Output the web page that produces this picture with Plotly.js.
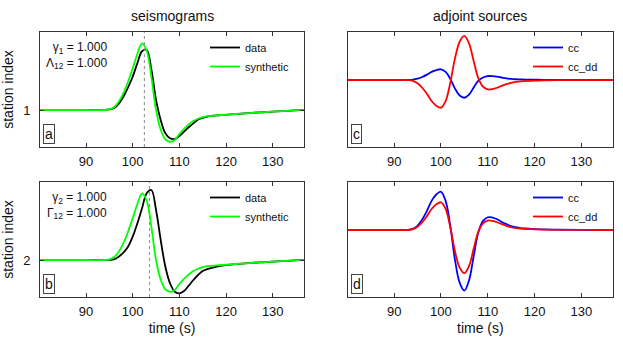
<!DOCTYPE html>
<html>
<head>
<meta charset="utf-8">
<script src="https://cdn.plot.ly/plotly-3.0.1.min.js"></script>
<style>html,body{margin:0;padding:0;background:#fff;}#plot{width:623px;height:339px;}</style>
</head>
<body>
<div id="plot"></div>
<script>
// ---- data ----
// seismogram time samples (s)
const tSeis = [80, 90, 94, 95, 96, 97, 98, 99, 100, 101, 102, 103, 104, 105, 106, 107, 108, 109, 110, 111, 112, 113, 114, 115, 116, 117, 118, 120, 122, 124, 126, 128, 130, 132, 134, 136, 137];
// synthetic trace (normalised amplitude), same in both stations
const synthetic = [0, 0, 0, 0.010, 0.040, 0.123, 0.247, 0.419, 0.618, 0.830, 0.988, 0.880, 0.490, 0.000, -0.290, -0.434, -0.470, -0.444, -0.356, -0.281, -0.215, -0.163, -0.129, -0.107, -0.092, -0.085, -0.079, -0.070, -0.059, -0.050, -0.041, -0.033, -0.025, -0.016, -0.009, -0.003, 0];
// observed data, station 1 and station 2
const dataSt1 = [0, 0, 0, 0.008, 0.025, 0.089, 0.197, 0.336, 0.493, 0.692, 0.870, 0.890, 0.600, 0.150, -0.148, -0.345, -0.419, -0.430, -0.385, -0.321, -0.256, -0.197, -0.141, -0.116, -0.098, -0.088, -0.081, -0.071, -0.060, -0.050, -0.041, -0.033, -0.025, -0.016, -0.009, -0.003, 0];
const dataSt2 = [0, 0, 0, 0.003, 0.010, 0.049, 0.108, 0.197, 0.345, 0.544, 0.766, 0.988, 1.037, 0.741, 0.296, -0.099, -0.345, -0.470, -0.493, -0.460, -0.380, -0.296, -0.222, -0.163, -0.135, -0.115, -0.098, -0.077, -0.062, -0.051, -0.041, -0.033, -0.025, -0.016, -0.009, -0.003, 0];
const stations = [1, 2];
const dotTimes = [102.5, 103.6];   // dotted marker times
// adjoint source time samples (s)
const tAdj = [80, 90, 92, 93, 94, 95, 96, 97, 98, 99, 100, 101, 102, 103, 104, 105, 106, 107, 108, 109, 110, 111, 112, 113, 114, 115, 116, 117, 118, 120, 122, 125, 130, 137];
const ccSt1   = [0, 0, 0, 0.002, 0.012, 0.046, 0.108, 0.193, 0.293, 0.359, 0.386, 0.293, 0.039, -0.31, -0.56, -0.64, -0.53, -0.27, -0.02, 0.09, 0.14, 0.14, 0.12, 0.09, 0.06, 0.04, 0.027, 0.02, 0.015, 0.01, 0.006, 0.003, 0.001, 0];
const ccddSt1 = [0, 0, 0, -0.005, -0.03, -0.12, -0.28, -0.5, -0.76, -0.93, -1.0, -0.76, -0.1, 0.78, 1.38, 1.59, 1.32, 0.68, 0.06, -0.24, -0.34, -0.33, -0.28, -0.21, -0.15, -0.1, -0.07, -0.05, -0.04, -0.025, -0.015, -0.008, -0.003, 0];
const ccSt2   = [0, 0, 0, 0.007, 0.04, 0.16, 0.38, 0.69, 1.05, 1.28, 1.38, 1.05, 0.14, -1.08, -1.9, -2.19, -1.82, -0.94, -0.08, 0.33, 0.46, 0.45, 0.39, 0.29, 0.21, 0.14, 0.1, 0.07, 0.055, 0.035, 0.02, 0.011, 0.004, 0];
const ccddSt2 = [0, 0, 0, 0.005, 0.03, 0.12, 0.28, 0.5, 0.76, 0.93, 1.0, 0.76, 0.1, -0.77, -1.36, -1.56, -1.3, -0.67, -0.06, 0.24, 0.34, 0.33, 0.28, 0.21, 0.15, 0.1, 0.07, 0.05, 0.04, 0.025, 0.015, 0.008, 0.003, 0];
const xTicks = [90, 100, 110, 120, 130];
const paramLabels = ['γ<sub>1</sub> = 1.000<br>Λ<sub>12</sub> = 1.000', 'γ<sub>2</sub> = 1.000<br>Γ<sub>12</sub> = 1.000'];
const panelLetters = ['a', 'b', 'c', 'd'];

// ---- presentation ----
const W = 623, H = 339;
const FONT = 'Liberation Sans, Arial, Helvetica, sans-serif';
const gain = 0.4;                 // trace gain around station index
const xr = [80.14, 136.7];
const px = (a, b) => [a / W, b / W];
const py = (top, bot) => [(H - bot) / H, (H - top) / H];
const colL = px(40, 304), colR = px(348, 612.7);
const rowT = py(32, 147), rowB = py(182, 297);
const seisRange = s => [s - 37 / 67.5 * gain, s + 78 / 67.5 * gain];
const adjRange = [-67 / 27.7, 48 / 27.7];

const shift = (arr, s) => arr.map(v => s + gain * v);
const lineW = 1.8;
const traces = [
  {x: tSeis, y: shift(dataSt1, stations[0]), xaxis: 'x', yaxis: 'y', name: 'data', line: {color: '#000000', width: lineW, shape: 'spline'}, legend: 'legend'},
  {x: tSeis, y: shift(synthetic, stations[0]), xaxis: 'x', yaxis: 'y', name: 'synthetic', line: {color: '#00ff00', width: lineW, shape: 'spline'}, legend: 'legend'},
  {x: tSeis, y: shift(dataSt2, stations[1]), xaxis: 'x2', yaxis: 'y2', name: 'data', line: {color: '#000000', width: lineW, shape: 'spline'}, legend: 'legend2'},
  {x: tSeis, y: shift(synthetic, stations[1]), xaxis: 'x2', yaxis: 'y2', name: 'synthetic', line: {color: '#00ff00', width: lineW, shape: 'spline'}, legend: 'legend2'},
  {x: tAdj, y: ccSt1, xaxis: 'x3', yaxis: 'y3', name: 'cc', line: {color: '#0000ff', width: lineW, shape: 'spline'}, legend: 'legend3'},
  {x: tAdj, y: ccddSt1, xaxis: 'x3', yaxis: 'y3', name: 'cc_dd', line: {color: '#ff0000', width: lineW, shape: 'spline'}, legend: 'legend3'},
  {x: tAdj, y: ccSt2, xaxis: 'x4', yaxis: 'y4', name: 'cc', line: {color: '#0000ff', width: lineW, shape: 'spline'}, legend: 'legend4'},
  {x: tAdj, y: ccddSt2, xaxis: 'x4', yaxis: 'y4', name: 'cc_dd', line: {color: '#ff0000', width: lineW, shape: 'spline'}, legend: 'legend4'}
].map(t => Object.assign({type: 'scatter', mode: 'lines', hoverinfo: 'skip'}, t));

const frame = '#333';
const xAxis = (dom, anchor, title) => ({
  domain: dom, anchor: anchor, range: xr, tickvals: xTicks, ticks: 'inside', ticklen: 4, tickcolor: frame,
  showline: true, linecolor: frame, linewidth: 1, mirror: 'ticks', showgrid: false, zeroline: false,
  tickfont: {size: 13, color: '#111'}, ticklabelstandoff: 2,
  title: title ? {text: title, font: {size: 14, color: '#111'}, standoff: 5} : undefined
});
const ySeis = (dom, anchor, s) => ({
  domain: dom, anchor: anchor, range: seisRange(s), tickvals: [s], ticktext: [String(s)], ticks: 'inside', ticklen: 4, tickcolor: frame,
  showline: true, linecolor: frame, linewidth: 1, mirror: 'ticks', showgrid: false, zeroline: false,
  tickfont: {size: 13, color: '#111'}, ticklabelstandoff: 6,
  title: {text: 'station index', font: {size: 14, color: '#111'}, standoff: 8}
});
const yAdj = (dom, anchor) => ({
  domain: dom, anchor: anchor, range: adjRange, showticklabels: false, ticks: '',
  showline: true, linecolor: frame, linewidth: 1, mirror: true, showgrid: false, zeroline: false
});
const leg = (xPix, topPix) => ({
  x: xPix / W, y: (H - topPix) / H, xanchor: 'left', yanchor: 'top', bgcolor: 'rgba(0,0,0,0)',
  font: {size: 11, color: '#111', family: FONT}, tracegroupgap: 0, borderwidth: 0
});

const annotations = [];
const axesIds = ['x', 'x2', 'x3', 'x4'];
panelLetters.forEach((L, i) => {
  annotations.push({xref: axesIds[i] + ' domain', yref: (i === 0 ? 'y' : 'y' + (i + 1)) + ' domain', x: 0.011, y: 0.026,
    xanchor: 'left', yanchor: 'bottom', text: L, showarrow: false, font: {size: 14, color: '#111'},
    bordercolor: '#444', borderwidth: 1, borderpad: 1, bgcolor: '#fff'});
});
paramLabels.forEach((txt, i) => {
  annotations.push({xref: axesIds[i] + ' domain', yref: (i === 0 ? 'y' : 'y2') + ' domain', x: 0.26, y: 0.945,
    xanchor: 'right', yanchor: 'top', align: 'right', text: txt, showarrow: false, font: {size: 12, color: '#111'}});
});
annotations.push({xref: 'x domain', yref: 'y domain', x: 0.5, y: 1, yanchor: 'bottom', yshift: 6, text: 'seismograms', showarrow: false, font: {size: 14, color: '#111'}});
annotations.push({xref: 'x3 domain', yref: 'y3 domain', x: 0.5, y: 1, yanchor: 'bottom', yshift: 6, text: 'adjoint sources', showarrow: false, font: {size: 14, color: '#111'}});

const shapes = dotTimes.map((t, i) => ({type: 'line', xref: axesIds[i], yref: (i === 0 ? 'y' : 'y2') + ' domain', x0: t, x1: t, y0: 0, y1: 1,
  line: {color: '#8a8a8a', width: 1, dash: 'dot'}, layer: 'above'}));

const layout = {
  width: W, height: H, margin: {l: 0, r: 0, t: 0, b: 0}, paper_bgcolor: '#fff', plot_bgcolor: '#fff',
  font: {family: FONT, color: '#111'}, showlegend: true,
  xaxis: xAxis(colL, 'y'), yaxis: ySeis(rowT, 'x', stations[0]),
  xaxis2: xAxis(colL, 'y2', 'time (s)'), yaxis2: ySeis(rowB, 'x2', stations[1]),
  xaxis3: xAxis(colR, 'y3'), yaxis3: yAdj(rowT, 'x3'),
  xaxis4: xAxis(colR, 'y4', 'time (s)'), yaxis4: yAdj(rowB, 'x4'),
  legend: leg(205, 33), legend2: leg(205, 183), legend3: leg(528, 33), legend4: leg(528, 183),
  annotations: annotations, shapes: shapes
};
Plotly.newPlot('plot', traces, layout, {staticPlot: true, displayModeBar: false});
</script>
</body>
</html>
